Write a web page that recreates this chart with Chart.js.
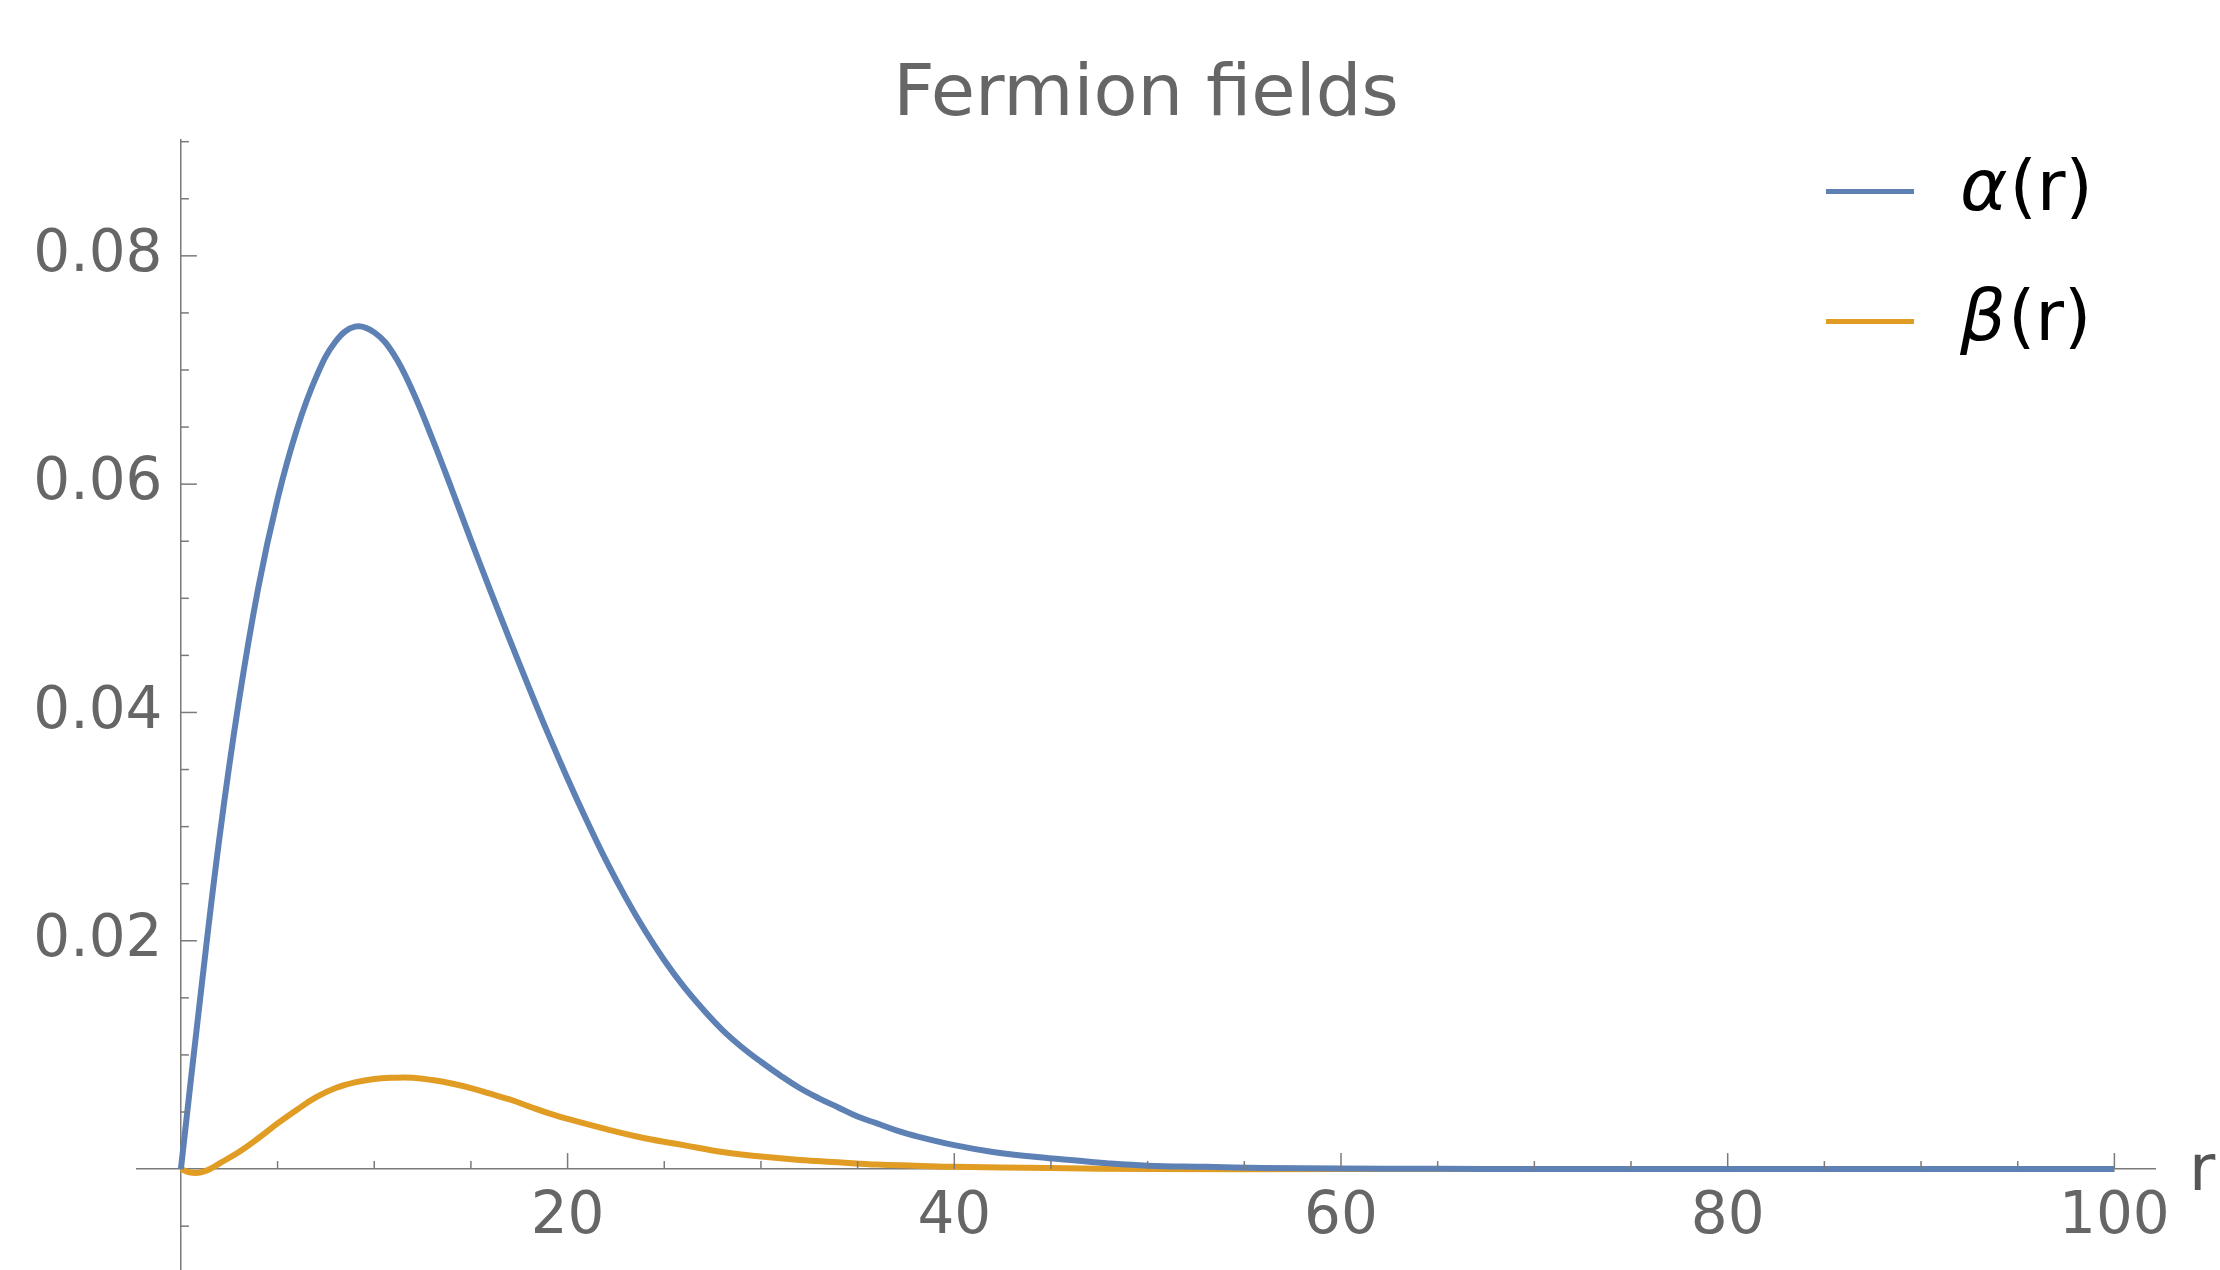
<!DOCTYPE html>
<html>
<head>
<meta charset="utf-8">
<script src="https://cdn.jsdelivr.net/npm/chart.js@4.4.1/dist/chart.umd.min.js"></script>
<style>
  html, body { margin: 0; padding: 0; background: #fff; }
  canvas { display: block; }
</style>
</head>
<body>
<canvas id="fieldChart" width="2220" height="1270"></canvas>
<script>

// ================= DATA =================

const seriesLabels = ["α(r)", "β(r)"];

const rAlpha = [0, 1, 2, 3, 4, 5, 6, 7, 8, 9, 10, 11, 12, 13, 14, 15, 16, 17, 18, 19, 20,
    21, 22, 23, 24, 25, 26, 27, 28, 29, 30, 31, 32, 33, 34, 35, 36, 37, 38, 40, 42, 44,
    46, 48, 50, 53, 56, 60, 65, 70, 80, 90, 100];
const alphaValues = [0, 0.0150, 0.0291, 0.0410, 0.0509, 0.0587, 0.0648, 0.0694, 0.0725, 0.0738,
    0.0733, 0.0714, 0.0681, 0.0640, 0.0596, 0.0551, 0.0507, 0.0464, 0.0422, 0.0381, 0.0342,
    0.0305, 0.0270, 0.0238, 0.0209, 0.0183, 0.0160, 0.0140, 0.0122, 0.0107, 0.0094, 0.0082,
    0.0071, 0.0062, 0.0054, 0.0046, 0.0040, 0.0034, 0.0029, 0.0021, 0.0015, 0.0011,
    0.0008, 0.0005, 0.0003, 0.0002, 0.0001, 0.00005, 0.00002, 0, 0, 0, 0];

const rBeta = [0, 0.5, 1, 1.5, 2, 3, 4, 5, 6, 7, 8, 9, 10, 11, 12, 13, 14, 15, 16, 17, 18, 19,
    20, 22, 24, 26, 28, 30, 32, 34, 36, 38, 40, 45, 50, 60, 80, 100];
const betaValues = [0, -0.0003, -0.0003, 0, 0.0005, 0.0015, 0.0027, 0.0040, 0.0052, 0.0063,
    0.0071, 0.0076, 0.0079, 0.0080, 0.0080, 0.0078, 0.0075, 0.0071, 0.0066, 0.0061, 0.0055,
    0.0049, 0.0044, 0.0035, 0.0027, 0.0021, 0.0015, 0.0011, 0.0008, 0.0006, 0.0004, 0.0003,
    0.0002, 0.0001, 0, 0, 0, 0];

const xMajorStep = 20;
const yMajorStep = 0.02;

// ================= HELPERS =================

const AXIS_COLOR = "#7a7a7a";
const LABEL_COLOR = "#666666";
const FONT = "'DejaVu Sans', 'Liberation Sans', sans-serif";

function isMajor(v, step) {
    const q = v / step;
    return Math.abs(q - Math.round(q)) < 1e-6;
}

function toPoints(xs, ys) {
    return xs.map((x, i) => ({ x: x, y: ys[i] }));
}

// axes sit at the origin, so they must not push the plot area around
function noScalePadding(scale) {
    scale.paddingLeft = 0;
    scale.paddingRight = 0;
    scale.paddingTop = 0;
    scale.paddingBottom = 0;
}

// ticks drawn inward, like Mathematica axes
const inwardTicks = {
    id: "inwardTicks",
    afterDatasetsDraw(chart) {
        const ctx = chart.ctx;
        const xs = chart.scales.x;
        const ys = chart.scales.y;
        const x0 = xs.getPixelForValue(0);
        const y0 = ys.getPixelForValue(0);

        ctx.save();
        ctx.strokeStyle = AXIS_COLOR;
        ctx.lineWidth = 1.5;

        xs.ticks.forEach(t => {
            if (Math.abs(t.value) < 1e-9) return;
            const px = xs.getPixelForValue(t.value);
            const len = isMajor(t.value, xMajorStep) ? 16 : 8;
            ctx.beginPath();
            ctx.moveTo(px, y0);
            ctx.lineTo(px, y0 - len);
            ctx.stroke();
        });

        ys.ticks.forEach(t => {
            if (Math.abs(t.value) < 1e-9) return;
            const py = ys.getPixelForValue(t.value);
            const len = isMajor(t.value, yMajorStep) ? 16 : 8;
            ctx.beginPath();
            ctx.moveTo(x0, py);
            ctx.lineTo(x0 + len, py);
            ctx.stroke();
        });

        // axis name "r" at the end of the horizontal axis
        ctx.fillStyle = "#555555";
        ctx.font = "64px " + FONT;
        ctx.textAlign = "left";
        ctx.textBaseline = "alphabetic";
        ctx.fillText("r", xs.right + 34, y0 + 21);

        ctx.restore();
    }
};

// legend with line samples, greek letters in italic
const lineLegend = {
    id: "lineLegend",
    afterDraw(chart) {
        const ctx = chart.ctx;
        const area = chart.chartArea;
        const left = area.right - 329;
        const top = area.top + 52;

        ctx.save();
        chart.data.datasets.forEach((ds, i) => {
            const y = top + i * 130;

            ctx.strokeStyle = ds.borderColor;
            ctx.lineWidth = 5;
            ctx.beginPath();
            ctx.moveTo(left, y);
            ctx.lineTo(left + 88, y);
            ctx.stroke();

            const greek = ds.label.charAt(0);
            const rest = ds.label.slice(1);
            ctx.fillStyle = "#000";
            ctx.textAlign = "left";
            ctx.textBaseline = "middle";
            ctx.font = "italic 72px " + FONT;
            ctx.fillText(greek, left + 134, y);
            const w = ctx.measureText(greek).width;
            ctx.font = "70px " + FONT;
            ctx.fillText(rest, left + 134 + w + 2, y);
        });
        ctx.restore();
    }
};

// ================= CHART =================

new Chart(document.getElementById("fieldChart"), {
    type: "line",
    data: {
        datasets: [
            {
                label: seriesLabels[0],
                data: toPoints(rAlpha, alphaValues),
                borderColor: "#5E81B5",
                borderWidth: 6,
                pointRadius: 0,
                fill: false,
                tension: 0.4
            },
            {
                label: seriesLabels[1],
                data: toPoints(rBeta, betaValues),
                borderColor: "#E19C24",
                borderWidth: 6,
                pointRadius: 0,
                fill: false,
                tension: 0.4
            }
        ]
    },
    options: {
        responsive: false,
        animation: false,
        devicePixelRatio: 1,
        layout: {
            autoPadding: false,
            padding: { left: 137, right: 65, top: 0, bottom: 0 }
        },
        plugins: {
            legend: { display: false },
            tooltip: { enabled: false },
            title: {
                display: true,
                fullSize: false,
                text: "Fermion fields",
                color: LABEL_COLOR,
                font: { family: FONT, size: 72, weight: "normal", lineHeight: 1.2 },
                padding: { top: 53, bottom: 0 }
            }
        },
        scales: {
            x: {
                type: "linear",
                position: { y: 0 },
                min: -2.27,
                max: 102.1,
                afterFit: noScalePadding,
                grid: { drawOnChartArea: false, drawTicks: false },
                border: { color: AXIS_COLOR, width: 1.5 },
                ticks: {
                    stepSize: 5,
                    includeBounds: false,
                    autoSkip: false,
                    maxRotation: 0,
                    padding: 14,
                    color: LABEL_COLOR,
                    font: { family: FONT, size: 58 },
                    callback: v => (isMajor(v, xMajorStep) && Math.abs(v) > 1e-9) ? String(Math.round(v)) : ""
                }
            },
            y: {
                type: "linear",
                position: { x: 0 },
                min: -0.00884,
                max: 0.0902,
                afterFit: noScalePadding,
                grid: { drawOnChartArea: false, drawTicks: false },
                border: { color: AXIS_COLOR, width: 1.5 },
                ticks: {
                    stepSize: 0.005,
                    includeBounds: false,
                    autoSkip: false,
                    padding: 0,
                    color: LABEL_COLOR,
                    font: { family: FONT, size: 58 },
                    // trailing space keeps the label clear of the axis line
                    callback: v => (isMajor(v, yMajorStep) && Math.abs(v) > 1e-9) ? v.toFixed(2) + " " : ""
                }
            }
        }
    },
    plugins: [inwardTicks, lineLegend]
});

</script>
</body>
</html>
